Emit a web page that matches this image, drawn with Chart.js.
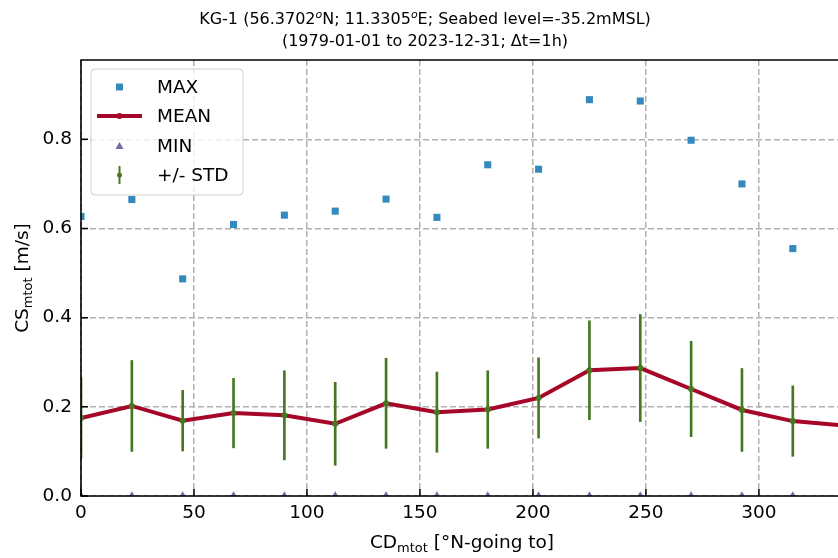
<!DOCTYPE html>
<html>
<head>
<meta charset="utf-8">
<script src="https://cdn.jsdelivr.net/npm/chart.js@4.4.1/dist/chart.umd.min.js"></script>
<style>
  body { margin: 0; background: #fff; }
  canvas { display: block; }
</style>
</head>
<body>
<canvas id="chart" width="838" height="558"></canvas>
<script>
// current direction bins (deg, going to)
const directions = [0, 22.5, 45, 67.5, 90, 112.5, 135, 157.5, 180, 202.5, 225, 247.5, 270, 292.5, 315, 337.5];
const maxSpeed = [0.627, 0.665, 0.487, 0.609, 0.630, 0.639, 0.666, 0.625, 0.743, 0.733, 0.889, 0.886, 0.798, 0.700, 0.555];
const meanSpeed = [0.175, 0.202, 0.169, 0.186, 0.181, 0.162, 0.208, 0.188, 0.194, 0.220, 0.282, 0.287, 0.240, 0.193, 0.168, 0.158];
const minSpeed = [0.003, 0.003, 0.003, 0.003, 0.003, 0.003, 0.003, 0.003, 0.003, 0.003, 0.003, 0.003, 0.003, 0.003, 0.003];
const stdSpeed = [0.090, 0.102, 0.068, 0.078, 0.100, 0.093, 0.101, 0.090, 0.087, 0.090, 0.111, 0.120, 0.107, 0.093, 0.079];

const yTicks = [0, 0.2, 0.4, 0.6, 0.8];
const xTicks = [0, 50, 100, 150, 200, 250, 300];

const FONT = "DejaVu Sans";
const C_MAX = "#348ABD", C_MEAN = "#A60628", C_MIN = "#7A68A6", C_STD = "#467821";

function pts(vals) {
  return vals.map((v, i) => ({ x: directions[i], y: v }));
}

// text with sub/superscript pieces
function drawRich(ctx, parts, x, y, align) {
  let total = 0;
  parts.forEach(p => {
    ctx.font = (p.italic ? "italic " : "") + p.size + "px '" + FONT + "'";
    p.w = ctx.measureText(p.text).width;
    total += p.w;
  });
  let cx = align === "center" ? x - total / 2 : x;
  parts.forEach(p => {
    ctx.font = (p.italic ? "italic " : "") + p.size + "px '" + FONT + "'";
    ctx.fillText(p.text, cx, y + (p.dy || 0));
    cx += p.w;
  });
}

const decor = {
  id: "decor",
  afterDatasetsDraw(chart) {
    const { ctx, chartArea: a, scales } = chart;
    ctx.save();
    ctx.strokeStyle = "#000";
    ctx.lineWidth = 1.6;
    ctx.beginPath();
    ctx.moveTo(a.right + 2, a.top);
    ctx.lineTo(a.left, a.top);
    ctx.lineTo(a.left, a.bottom);
    ctx.lineTo(a.right + 2, a.bottom);
    ctx.stroke();

    // inward tick marks
    ctx.lineWidth = 1.5;
    ctx.beginPath();
    xTicks.forEach(v => {
      const px = scales.x.getPixelForValue(v);
      ctx.moveTo(px, a.bottom);
      ctx.lineTo(px, a.bottom - 7);
    });
    yTicks.forEach(v => {
      const py = scales.y.getPixelForValue(v);
      ctx.moveTo(a.left, py);
      ctx.lineTo(a.left + 7, py);
    });
    ctx.stroke();
    ctx.restore();
  },
  afterDraw(chart) {
    const { ctx, chartArea: a } = chart;
    ctx.save();
    ctx.fillStyle = "#000";
    ctx.textBaseline = "alphabetic";

    // title
    drawRich(ctx, [
      { text: "KG-1 (56.3702", size: 16 },
      { text: "o", size: 11, italic: true, dy: -6 },
      { text: "N; 11.3305", size: 16 },
      { text: "o", size: 11, italic: true, dy: -6 },
      { text: "E; Seabed level=-35.2mMSL)", size: 16 }
    ], 425, 24, "center");
    drawRich(ctx, [{ text: "(1979-01-01 to 2023-12-31; \u0394t=1h)", size: 16 }], 425, 46, "center");

    // x label
    drawRich(ctx, [
      { text: "CD", size: 18.5 },
      { text: "mtot", size: 13, dy: 4 },
      { text: " [\u00b0N-going to]", size: 18.5 }
    ], 462, 548, "center");

    // y label
    ctx.save();
    ctx.translate(28, (a.top + a.bottom) / 2);
    ctx.rotate(-Math.PI / 2);
    drawRich(ctx, [
      { text: "CS", size: 18.5 },
      { text: "mtot", size: 13, dy: 4 },
      { text: " [m/s]", size: 18.5 }
    ], 0, 0, "center");
    ctx.restore();

    // legend
    ctx.beginPath();
    ctx.roundRect(91, 69, 152, 126, 4);
    ctx.fillStyle = "rgba(255,255,255,0.8)";
    ctx.fill();
    ctx.strokeStyle = "#d0d0d0";
    ctx.lineWidth = 1;
    ctx.stroke();

    const hx = 119.5;
    const rows = [
      { label: "MAX", y: 87 },
      { label: "MEAN", y: 116 },
      { label: "MIN", y: 146 },
      { label: "+/- STD", y: 175 }
    ];
    // MAX
    ctx.fillStyle = C_MAX;
    ctx.fillRect(hx - 3.5, rows[0].y - 3.5, 7, 7);
    // MEAN
    ctx.strokeStyle = C_MEAN;
    ctx.lineWidth = 4;
    ctx.beginPath();
    ctx.moveTo(97, rows[1].y);
    ctx.lineTo(142, rows[1].y);
    ctx.stroke();
    ctx.fillStyle = C_MEAN;
    ctx.beginPath();
    ctx.arc(hx, rows[1].y, 3, 0, Math.PI * 2);
    ctx.fill();
    // MIN
    ctx.fillStyle = C_MIN;
    ctx.beginPath();
    ctx.moveTo(hx, rows[2].y - 4);
    ctx.lineTo(hx + 4, rows[2].y + 3);
    ctx.lineTo(hx - 4, rows[2].y + 3);
    ctx.closePath();
    ctx.fill();
    // STD
    ctx.strokeStyle = C_STD;
    ctx.lineWidth = 2;
    ctx.beginPath();
    ctx.moveTo(hx, rows[3].y - 9);
    ctx.lineTo(hx, rows[3].y + 9);
    ctx.stroke();
    ctx.fillStyle = C_STD;
    ctx.beginPath();
    ctx.arc(hx, rows[3].y, 2.5, 0, Math.PI * 2);
    ctx.fill();

    ctx.fillStyle = "#000";
    ctx.font = "18.5px '" + FONT + "'";
    ctx.textBaseline = "middle";
    rows.forEach(r => ctx.fillText(r.label, 157, r.y + 1));
    ctx.restore();
  }
};

const chart = new Chart(document.getElementById("chart"), {
  data: {
    datasets: [
      {
        type: "scatter",
        label: "MAX",
        data: pts(maxSpeed),
        pointStyle: "rect",
        pointRadius: 5,
        backgroundColor: C_MAX,
        borderWidth: 0,
        order: 5,
        clip: 0
      },
      {
        type: "line",
        label: "MEAN",
        data: pts(meanSpeed),
        borderColor: C_MEAN,
        borderWidth: 4,
        pointRadius: 2.5,
        pointBackgroundColor: C_MEAN,
        pointBorderWidth: 0,
        tension: 0,
        order: 4,
        clip: 0
      },
      {
        type: "scatter",
        label: "MIN",
        data: pts(minSpeed),
        pointStyle: "triangle",
        pointRadius: 3.5,
        backgroundColor: C_MIN,
        borderWidth: 0,
        order: 3,
        clip: 0
      },
      {
        type: "bar",
        label: "+/- STD",
        data: stdSpeed.map((s, i) => ({ x: directions[i], y: [meanSpeed[i] - s, meanSpeed[i] + s] })),
        backgroundColor: C_STD,
        borderWidth: 0,
        barThickness: 2,
        grouped: false,
        order: 2,
        clip: 0
      },
      {
        type: "scatter",
        label: "STD centre",
        data: pts(meanSpeed.slice(0, stdSpeed.length)),
        pointRadius: 3,
        backgroundColor: C_STD,
        borderWidth: 0,
        order: 1,
        clip: 0
      }
    ]
  },
  options: {
    responsive: false,
    animation: false,
    layout: { autoPadding: false, padding: { top: 60, left: 0, right: 0, bottom: 0 } },
    plugins: {
      legend: { display: false },
      title: { display: false },
      tooltip: { enabled: false }
    },
    scales: {
      x: {
        type: "linear",
        min: 0,
        max: 335,
        offset: false,
        afterBuildTicks: s => { s.ticks = xTicks.map(v => ({ value: v })); },
        afterFit: s => { s.height = 62; s.paddingRight = 0; s.paddingLeft = 0; },
        ticks: {
          color: "#000",
          font: { family: FONT, size: 18.5 },
          padding: 6,
          maxRotation: 0,
          autoSkip: false
        },
        grid: { color: "#b0b0b0", lineWidth: 1.5, drawTicks: false, offset: false },
        border: { display: false, dash: [6, 3] }
      },
      y: {
        type: "linear",
        min: 0,
        max: 0.978,
        afterBuildTicks: s => { s.ticks = yTicks.map(v => ({ value: v })); },
        afterFit: s => { s.width = 81; s.paddingTop = 0; s.paddingBottom = 0; },
        ticks: {
          color: "#000",
          font: { family: FONT, size: 18.5 },
          padding: 9,
          callback: v => v.toFixed(1)
        },
        grid: { color: "#b0b0b0", lineWidth: 1.5, drawTicks: false },
        border: { display: false, dash: [6, 3] }
      }
    }
  },
  plugins: [decor]
});
</script>
</body>
</html>
